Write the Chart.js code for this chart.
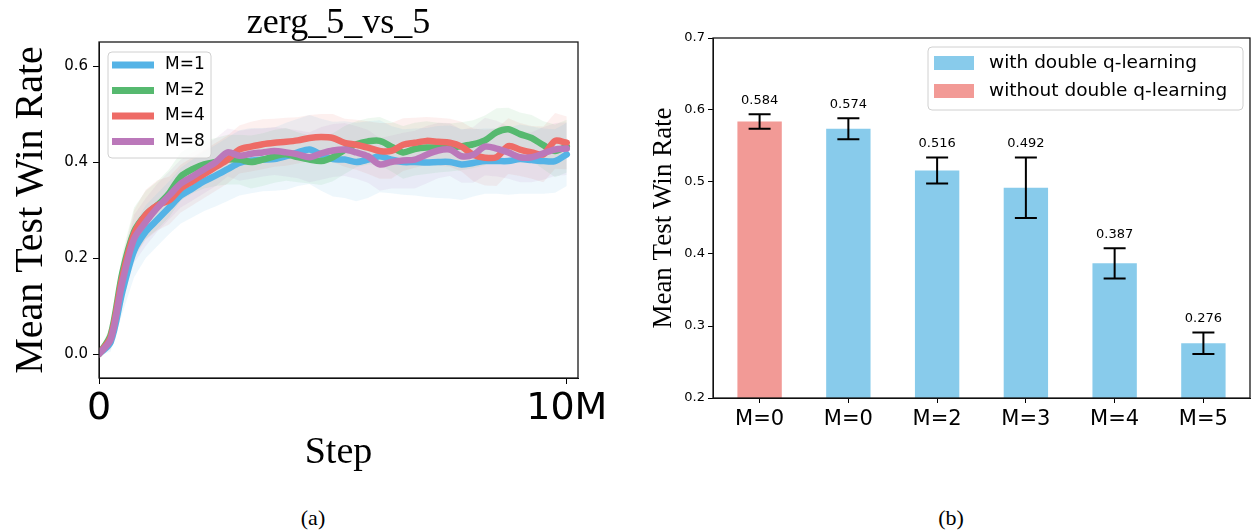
<!DOCTYPE html>
<html>
<head>
<meta charset="utf-8">
<script src="https://cdn.jsdelivr.net/npm/chart.js@4.4.1/dist/chart.umd.min.js"></script>
<style>
  html, body { margin: 0; padding: 0; background: #fff; }
  body { width: 1253px; height: 531px; position: relative; overflow: hidden; }
  #lineChart { position: absolute; left: 0; top: 0; }
  #barChart { position: absolute; left: 620px; top: 0; }
  .cap { position: absolute; top: 505px; line-height: 26px; font-family: "Liberation Serif", serif; font-size: 22px; transform: translateX(-50%); }
</style>
</head>
<body>
<canvas id="lineChart" width="620" height="480"></canvas>
<canvas id="barChart" width="633" height="480"></canvas>
<div class="cap" style="left:313px">(a)</div>
<div class="cap" style="left:951px">(b)</div>
<script>
// ---- (a) learning curves, steps in millions ----
const steps = [0,0.25,0.5,0.75,1,1.25,1.5,1.75,2,2.25,2.5,2.75,3,3.25,3.5,3.75,4,4.25,4.5,4.75,5,5.25,5.5,5.75,6,6.25,6.5,6.75,7,7.25,7.5,7.75,8,8.25,8.5,8.75,9,9.25,9.5,9.75,10];
const seriesNames = ['M=1', 'M=2', 'M=4', 'M=8'];
const meanM1 = [0.0,0.025,0.13,0.215,0.255,0.28,0.305,0.33,0.345,0.36,0.372,0.385,0.398,0.403,0.405,0.406,0.412,0.42,0.426,0.415,0.406,0.405,0.40,0.405,0.412,0.405,0.40,0.40,0.399,0.40,0.40,0.395,0.398,0.402,0.402,0.402,0.406,0.404,0.402,0.402,0.416];
const meanM2 = [0.0,0.04,0.17,0.255,0.29,0.31,0.335,0.37,0.385,0.395,0.40,0.405,0.405,0.40,0.405,0.412,0.416,0.41,0.405,0.402,0.41,0.425,0.437,0.443,0.444,0.432,0.42,0.427,0.43,0.43,0.43,0.433,0.437,0.445,0.462,0.468,0.458,0.45,0.435,0.423,0.433];
const meanM4 = [0.0,0.035,0.16,0.25,0.29,0.31,0.32,0.345,0.36,0.375,0.39,0.405,0.426,0.432,0.437,0.44,0.442,0.445,0.45,0.452,0.45,0.44,0.436,0.43,0.423,0.423,0.436,0.44,0.444,0.442,0.44,0.432,0.415,0.409,0.41,0.433,0.426,0.42,0.416,0.444,0.44];
const meanM8 = [0.0,0.03,0.15,0.24,0.275,0.305,0.33,0.355,0.37,0.385,0.40,0.42,0.413,0.417,0.42,0.423,0.42,0.416,0.41,0.418,0.424,0.426,0.42,0.412,0.395,0.40,0.403,0.405,0.415,0.424,0.426,0.412,0.415,0.432,0.428,0.42,0.41,0.41,0.418,0.426,0.428];
const spreadM1 = [0.004,0.02,0.045,0.055,0.055,0.055,0.055,0.058,0.06,0.062,0.064,0.066,0.068,0.068,0.066,0.066,0.07,0.07,0.072,0.075,0.078,0.08,0.082,0.08,0.075,0.07,0.068,0.07,0.072,0.075,0.076,0.074,0.07,0.068,0.068,0.07,0.072,0.07,0.068,0.066,0.066];
const spreadM2 = [0.004,0.02,0.04,0.05,0.05,0.05,0.05,0.05,0.05,0.05,0.05,0.052,0.052,0.055,0.055,0.055,0.055,0.052,0.05,0.05,0.05,0.05,0.048,0.048,0.05,0.052,0.055,0.055,0.055,0.052,0.05,0.05,0.05,0.052,0.05,0.045,0.045,0.048,0.05,0.055,0.055];
const spreadM4 = [0.004,0.02,0.04,0.05,0.052,0.052,0.05,0.05,0.05,0.05,0.05,0.05,0.05,0.052,0.052,0.05,0.05,0.048,0.048,0.048,0.05,0.05,0.052,0.055,0.058,0.058,0.055,0.052,0.05,0.05,0.05,0.052,0.055,0.058,0.06,0.058,0.055,0.055,0.058,0.058,0.055];
const spreadM8 = [0.004,0.02,0.04,0.05,0.05,0.05,0.05,0.05,0.05,0.05,0.05,0.05,0.052,0.052,0.05,0.05,0.05,0.05,0.052,0.055,0.055,0.055,0.055,0.055,0.055,0.055,0.058,0.06,0.06,0.058,0.055,0.055,0.058,0.06,0.058,0.055,0.052,0.052,0.055,0.055,0.055];
const yTicksA = [0, 0.2, 0.4, 0.6];
const xTicksA = [0, 10];
const xTickLabelsA = ['0', '10M'];

// ---- (b) bar chart ----
const barLabels = ['M=0', 'M=0', 'M=2', 'M=3', 'M=4', 'M=5'];
const barPositions = [0, 1, 2, 3, 4, 5];
const barMeans = [0.584, 0.574, 0.516, 0.492, 0.387, 0.276];
const barErrors = [0.010, 0.0145, 0.018, 0.042, 0.021, 0.015];
const barGroups = ['without', 'with', 'with', 'with', 'with', 'with'];
const groupNames = { with: 'with double q-learning', without: 'without double q-learning' };
const yTicksB = [0.2, 0.3, 0.4, 0.5, 0.6, 0.7];

const lineColors = ['#54b3e6', '#56b96f', '#ee6b66', '#bb78ba'];
const barColors = { with: '#88cbeb', without: '#f29a96' };

function rgba(hex, a) {
  const n = parseInt(hex.slice(1), 16);
  return `rgba(${n >> 16},${(n >> 8) & 255},${n & 255},${a})`;
}

// box round the plot area
const framePlugin = {
  id: 'frame',
  afterDraw(chart) {
    const { ctx, chartArea: a } = chart;
    ctx.save();
    ctx.strokeStyle = '#1a1a1a';
    ctx.lineWidth = 1.3;
    ctx.strokeRect(a.left, a.top, a.right - a.left, a.bottom - a.top);
    ctx.restore();
  }
};

// legend inside the axes, top left
const lineLegend = {
  id: 'lineLegend',
  afterDraw(chart) {
    const { ctx, chartArea: a } = chart;
    const items = chart.data.datasets.filter(d => d.label);
    const bx = a.left + 9, by = a.top + 10, bw = 103, bh = 106;
    ctx.save();
    ctx.beginPath();
    ctx.roundRect(bx, by, bw, bh, 4);
    ctx.fillStyle = 'rgba(255,255,255,0.8)';
    ctx.fill();
    ctx.strokeStyle = '#d0d0d0';
    ctx.lineWidth = 1;
    ctx.stroke();
    ctx.font = '17px "DejaVu Sans"';
    ctx.textBaseline = 'middle';
    items.forEach((d, i) => {
      const y = by + 13 + i * 25.5;
      ctx.strokeStyle = d.borderColor;
      ctx.lineWidth = 7;
      ctx.beginPath();
      ctx.moveTo(bx + 4, y);
      ctx.lineTo(bx + 46, y);
      ctx.stroke();
      ctx.fillStyle = '#000';
      ctx.fillText(d.label, bx + 57, y);
    });
    ctx.restore();
  }
};

const means = [meanM1, meanM2, meanM4, meanM8];
const spreads = [spreadM1, spreadM2, spreadM4, spreadM8];
const bandSets = [];
const lineSets = [];
seriesNames.forEach((name, i) => {
  bandSets.push({
    data: steps.map((s, j) => ({ x: s, y: means[i][j] - spreads[i][j] })),
    borderWidth: 0, pointRadius: 0, fill: false, order: 20
  });
  bandSets.push({
    data: steps.map((s, j) => ({ x: s, y: means[i][j] + spreads[i][j] })),
    borderWidth: 0, pointRadius: 0, fill: '-1',
    backgroundColor: rgba(lineColors[i], 0.1), order: 20
  });
  lineSets.push({
    label: name,
    data: steps.map((s, j) => ({ x: s, y: means[i][j] })),
    borderColor: lineColors[i], borderWidth: 6.5, pointRadius: 0, fill: false,
    tension: 0.3, borderJoinStyle: 'round', borderCapStyle: 'round',
    order: 4 - i
  });
});

new Chart('lineChart', {
  type: 'line',
  data: { datasets: bandSets.concat(lineSets) },
  plugins: [framePlugin, lineLegend],
  options: {
    responsive: false,
    animation: false,
    devicePixelRatio: 1,
    layout: { padding: { left: 0, right: 42, top: 0, bottom: 0 } },
    plugins: {
      legend: { display: false },
      tooltip: { enabled: false },
      filler: { propagate: false, drawTime: 'beforeDatasetsDraw' },
      title: {
        display: true,
        text: 'zerg_5_vs_5',
        fullSize: false,
        color: '#000',
        font: { family: 'Liberation Serif', size: 36, weight: 'normal', lineHeight: 1.0 },
        padding: { top: 6, bottom: 0 }
      }
    },
    scales: {
      x: {
        type: 'linear',
        min: 0,
        max: 10.24,
        afterBuildTicks: s => { s.ticks = xTicksA.map(v => ({ value: v })); },
        afterFit: s => { s.height = 102; s.paddingLeft = 0; s.paddingRight = 0; },
        ticks: {
          callback: v => xTickLabelsA[xTicksA.indexOf(v)],
          color: '#000',
          font: { family: 'DejaVu Sans', size: 38 },
          padding: 2,
          maxRotation: 0,
          autoSkip: false
        },
        grid: { drawOnChartArea: false, tickLength: 6, color: '#000' },
        border: { color: '#000' },
        title: {
          display: true,
          text: 'Step',
          color: '#000',
          font: { family: 'Liberation Serif', size: 38, lineHeight: 1.0 },
          padding: { top: 0, bottom: 8 }
        }
      },
      y: {
        min: -0.05,
        max: 0.65,
        afterBuildTicks: s => { s.ticks = yTicksA.map(v => ({ value: v })); },
        afterFit: s => { s.width = 99; s.paddingTop = 0; s.paddingBottom = 0; },
        ticks: {
          callback: v => v.toFixed(1),
          color: '#000',
          font: { family: 'DejaVu Sans', size: 15 },
          padding: 5
        },
        grid: { drawOnChartArea: false, tickLength: 6, color: '#000' },
        border: { color: '#000' },
        title: {
          display: true,
          text: 'Mean Test Win Rate',
          color: '#000',
          font: { family: 'Liberation Serif', size: 40, lineHeight: 1.2 },
          padding: { top: 7, bottom: 0 }
        }
      }
    }
  }
});

// error bars and value labels on the bars
const errorBars = {
  id: 'errorBars',
  afterDatasetsDraw(chart) {
    const { ctx, scales: { x, y } } = chart;
    ctx.save();
    ctx.strokeStyle = '#000';
    ctx.lineWidth = 2;
    ctx.fillStyle = '#000';
    ctx.font = '13px "DejaVu Sans"';
    ctx.textAlign = 'center';
    ctx.textBaseline = 'middle';
    barPositions.forEach((p, i) => {
      const cx = x.getPixelForValue(p);
      const top = y.getPixelForValue(barMeans[i] + barErrors[i]);
      const bot = y.getPixelForValue(barMeans[i] - barErrors[i]);
      ctx.beginPath();
      ctx.moveTo(cx, top); ctx.lineTo(cx, bot);
      ctx.moveTo(cx - 11, top); ctx.lineTo(cx + 11, top);
      ctx.moveTo(cx - 11, bot); ctx.lineTo(cx + 11, bot);
      ctx.stroke();
      ctx.fillText(barMeans[i].toFixed(3), cx, top - 14);
    });
    ctx.restore();
  }
};

const barLegend = {
  id: 'barLegend',
  afterDraw(chart) {
    const { ctx, chartArea: a } = chart;
    const bx = a.left + 215, by = a.top + 9, bw = 315, bh = 63;
    ctx.save();
    ctx.beginPath();
    ctx.roundRect(bx, by, bw, bh, 4);
    ctx.fillStyle = 'rgba(255,255,255,0.8)';
    ctx.fill();
    ctx.strokeStyle = '#d0d0d0';
    ctx.lineWidth = 1;
    ctx.stroke();
    ctx.font = '18.5px "DejaVu Sans"';
    ctx.textBaseline = 'middle';
    chart.data.datasets.forEach((d, i) => {
      const y = by + 16 + i * 28;
      ctx.fillStyle = d.backgroundColor;
      ctx.fillRect(bx + 6, y - 7, 40, 14);
      ctx.fillStyle = '#000';
      ctx.fillText(d.label, bx + 61, y);
    });
    ctx.restore();
  }
};

const barSets = ['with', 'without'].map(g => ({
  label: groupNames[g],
  data: barPositions.filter((p, i) => barGroups[i] === g).map(p => ({ x: p, y: barMeans[p] })),
  backgroundColor: barColors[g],
  grouped: false,
  barPercentage: 0.5,
  categoryPercentage: 1.0
}));

new Chart('barChart', {
  type: 'bar',
  data: { datasets: barSets },
  plugins: [framePlugin, errorBars, barLegend],
  options: {
    responsive: false,
    animation: false,
    devicePixelRatio: 1,
    layout: { padding: { left: 0, right: 3, top: 38, bottom: 0 } },
    plugins: {
      legend: { display: false },
      tooltip: { enabled: false }
    },
    scales: {
      x: {
        type: 'linear',
        offset: false,
        min: -0.525,
        max: 5.525,
        afterBuildTicks: s => { s.ticks = barPositions.map(v => ({ value: v })); },
        afterFit: s => { s.height = 82; s.paddingLeft = 0; s.paddingRight = 0; },
        ticks: {
          callback: v => barLabels[v],
          color: '#000',
          font: { family: 'DejaVu Sans', size: 21 },
          padding: 4,
          maxRotation: 0,
          autoSkip: false
        },
        grid: { offset: false, drawOnChartArea: false, tickLength: 5, color: '#000' },
        border: { color: '#000' }
      },
      y: {
        min: 0.2,
        max: 0.7,
        afterBuildTicks: s => { s.ticks = yTicksB.map(v => ({ value: v })); },
        afterFit: s => { s.width = 93; s.paddingTop = 0; s.paddingBottom = 0; },
        ticks: {
          callback: v => v.toFixed(1),
          color: '#000',
          font: { family: 'DejaVu Sans', size: 13 },
          padding: 3
        },
        grid: { drawOnChartArea: false, tickLength: 5, color: '#000' },
        border: { color: '#000' },
        title: {
          display: true,
          text: 'Mean Test Win Rate',
          color: '#000',
          font: { family: 'Liberation Serif', size: 27, lineHeight: 1.2 },
          padding: { top: 28, bottom: 0 }
        }
      }
    }
  }
});
</script>
</body>
</html>
